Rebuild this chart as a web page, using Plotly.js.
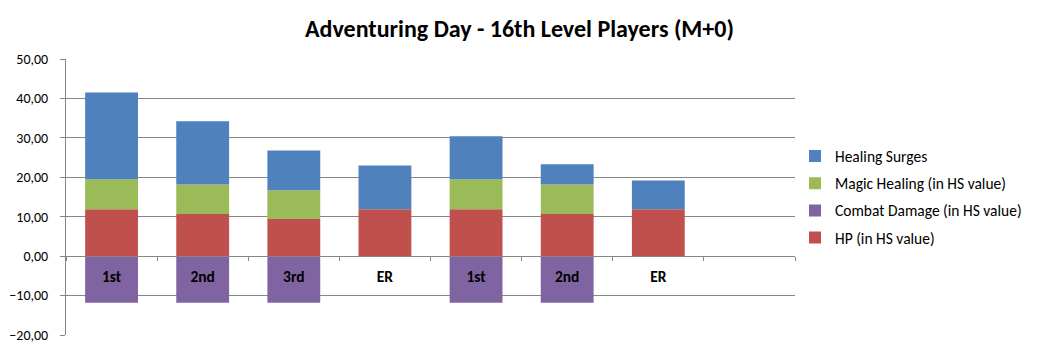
<!DOCTYPE html>
<html>
<head>
<meta charset="utf-8">
<script src="https://cdn.plot.ly/plotly-3.0.1.min.js"></script>
<style>html,body{margin:0;padding:0;background:#fff;}#chart{width:1039px;height:353px;}</style>
</head>
<body>
<div id="chart"></div>
<script>
const positions = ['0','1','2','3','4','5','6','7'];
const phaseLabels = ['1st','2nd','3rd','ER','1st','2nd','ER',''];
const hp = [11.9, 10.7, 9.4, 11.9, 11.9, 10.7, 11.9, null];
const combatDamage = [-11.8, -11.8, -11.8, null, -11.8, -11.8, null, null];
const magicHealing = [7.6, 7.5, 7.3, null, 7.6, 7.5, null, null];
const healingSurges = [22.0, 16.0, 10.1, 11.1, 10.9, 5.1, 7.3, null];

const font = "Carlito, Calibri, 'Open Sans', 'Noto Sans', sans-serif";
const mk = (name, y, color, g, rank) => ({
  type: 'bar', name: name, x: positions, y: y, legendgroup: g, legendrank: rank,
  marker: {color: color, line: {width: 0}}, width: 0.58,
  hoverinfo: 'y+name'
});
const data = [
  mk('HP (in HS value)', hp, '#C0504D', 'g1', 4),
  mk('Combat Damage (in HS value)', combatDamage, '#8064A2', 'g2', 3),
  mk('Magic Healing (in HS value)', magicHealing, '#9BBB59', 'g3', 2),
  mk('Healing Surges', healingSurges, '#4F81BD', 'g4', 1)
];
const layout = {
  width: 1039, height: 353,
  barmode: 'relative',
  separators: ',.',
  paper_bgcolor: '#fff', plot_bgcolor: '#fff',
  margin: {l: 66, r: 242, t: 59, b: 18},
  font: {family: font, size: 15.5, color: '#000'},
  title: {text: '<b>Adventuring Day - 16th Level Players (M+0)</b>', x: 0.5, xanchor: 'center', y: 0.92, yanchor: 'middle', font: {family: font, size: 24, color: '#000'}},
  showlegend: true,
  legend: {x: 1.0, xanchor: 'left', y: 0.5, yanchor: 'middle', traceorder: 'grouped', font: {family: font, size: 15.5, color: '#000'}, itemwidth: 30, tracegroupgap: 4, bgcolor: 'rgba(0,0,0,0)'},
  xaxis: {
    type: 'category', range: [-0.5, 7.5],
    tickmode: 'array', tickvals: positions, ticktext: phaseLabels.map(t => '<b>' + t + '</b>'),
    tickson: 'boundaries', ticks: 'outside', ticklen: 4, tickcolor: '#868686',
    showline: true, linecolor: '#868686', linewidth: 1,
    showgrid: false, zeroline: false,
    anchor: 'free', position: 20/70,
    tickfont: {family: font, size: 15.5, color: '#000'},
    ticklabelstandoff: 6, fixedrange: true
  },
  yaxis: {
    range: [-20, 50], dtick: 10, tick0: 0, tickformat: '.2f',
    showgrid: true, gridcolor: '#868686', gridwidth: 1,
    showline: true, linecolor: '#868686', linewidth: 1,
    ticks: 'outside', ticklen: 5, tickcolor: '#868686',
    zeroline: false, tickfont: {family: font, size: 14, color: '#000'},
    ticklabelstandoff: 9, fixedrange: true
  }
};
Plotly.newPlot('chart', data, layout, {displayModeBar: false, staticPlot: true});
</script>
</body>
</html>
